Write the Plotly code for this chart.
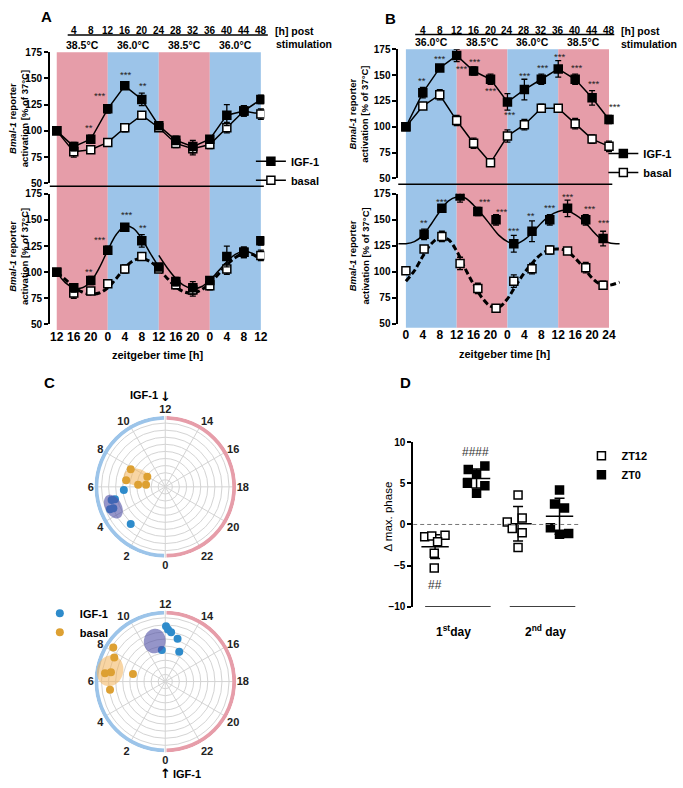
import numpy as np
import plotly.graph_objects as go

W, H = 683, 788
def X(px): return px / W
def Y(py): return 1 - py / H

FONT = "Liberation Sans, Arial, sans-serif"
PINK = "#E69DA9"
BLUE = "#9CC4E9"
DOT_BLUE = "#2E8BCB"
DOT_ORANGE = "#DDA032"

# ---------------- Panel A / B data (hours post stimulation) ----------------
hours = [0, 4, 8, 12, 16, 20, 24, 28, 32, 36, 40, 44, 48]
post_labels = ["4", "8", "12", "16", "20", "24", "28", "32", "36", "40", "44", "48"]
post_hours = [4, 8, 12, 16, 20, 24, 28, 32, 36, 40, 44, 48]
zt_labels_A = ["12", "16", "20", "0", "4", "8", "12", "16", "20", "0", "4", "8", "12"]
zt_labels_B = ["0", "4", "8", "12", "16", "20", "0", "4", "8", "12", "16", "20", "24"]
band_edges = [0, 12, 24, 36, 48]
bands_A = [PINK, BLUE, PINK, BLUE]
bands_B = [BLUE, PINK, BLUE, PINK]
temps_A = ["38.5°C", "36.0°C", "38.5°C", "36.0°C"]
temps_B = ["36.0°C", "38.5°C", "36.0°C", "38.5°C"]

A_igf = [100, 85, 92, 121, 143, 130, 105, 91, 85, 92, 115, 119, 130]
A_igf_err = [1, 4, 4, 4, 3, 6, 3, 4, 6, 3, 10, 5, 4]
A_basal = [100, 80, 82, 89, 103, 115, 103, 88, 83, 87, 103, 119, 116]
A_basal_err = [1, 5, 2, 2, 4, 3, 3, 4, 6, 4, 5, 5, 5]

A_star_x = [7.7, 10.0, 16.2, 20.2]
A_star_y = [103, 134, 154, 143]
A_star_t = ["**", "***", "***", "**"]
A2_star_x = [7.7, 10.1, 16.3, 20.2]
A2_star_y = [101, 131, 155, 143]
A2_star_t = ["**", "***", "***", "**"]

# fitted curves (A bottom)
A_fit1_h = [0, 2, 4, 6, 8, 10, 12, 14, 16, 18, 20, 22, 24]
A_fit1_v = [100, 90, 85, 85, 91, 104, 121, 136, 144, 142, 132, 118, 105]
A_fit2_h = [24, 26, 28, 30, 32, 34, 36, 38, 40, 42, 44, 46, 48]
A_fit2_v = [116, 104, 94, 87, 84, 86, 92, 101, 110, 117, 120, 118, 112]
A_fitb_h = [0, 2, 4, 6, 8, 10, 12, 14, 16, 18, 20, 22, 24, 26, 28, 30, 32, 34, 36, 38, 40, 42, 44, 46, 48]
A_fitb_v = [100, 93, 86, 81, 79, 80, 85, 94, 104, 111, 113, 110, 103, 94, 86, 81, 80, 83, 89, 98, 107, 114, 118, 117, 112]

B_igf = [100, 133, 157, 169, 154, 146, 124, 136, 146, 156, 146, 128, 107]
B_igf_err = [1, 5, 3, 6, 4, 5, 8, 10, 5, 8, 5, 7, 4]
B_basal = [100, 120, 131, 106, 84, 65, 91, 102, 118, 118, 103, 88, 81]
B_basal_err = [1, 3, 5, 5, 5, 3, 6, 5, 4, 3, 5, 4, 5]
B_star_x = [3.8, 8.0, 13.1, 16.2, 20.1, 24.5, 28.0, 32.3, 36.2, 40.3, 44.3, 49.2]
B_star_y = [145, 166, 156, 163, 135, 112, 150, 157, 168, 157, 142, 120]
B_star_t = ["**"] + ["***"] * 11

B2_t_igf = [4.3, 8.5, 12.8, 17.0, 21.3, 25.5, 29.8, 34.0, 38.2, 42.5, 46.6]
B2_igf = [136, 161, 173, 158, 150, 127, 139, 150, 161, 150, 132]
B2_igf_err = [5, 3, 6, 4, 5, 8, 10, 5, 8, 5, 7]
B2_t_basal = [0, 4.3, 8.5, 12.8, 17.0, 21.3, 25.5, 29.8, 34.0, 38.2, 42.5, 46.6]
B2_basal = [101, 122, 134, 108, 84, 65, 91, 103, 121, 120, 104, 87]
B2_basal_err = [1, 3, 5, 6, 5, 3, 6, 5, 4, 3, 5, 4]
B2_star_x = [4.3, 8.5, 15.8, 18.6, 22.5, 25.4, 29.6, 33.9, 38.2, 43.3, 46.6]
B2_star_y = [147, 168, 177, 168, 158, 140, 154, 162, 172, 161, 147]
B2_star_t = ["**", "***", "***", "***", "***", "***", "**", "***", "***", "***", "***"]

B_fit_h = [-1.8, 0, 2, 4, 6, 8, 10, 12, 14, 16, 18, 20, 22, 24, 26, 28, 30, 32, 34, 36, 38, 40, 42, 44, 46, 48, 50.5]
B_fit_igf = [127, 127, 129, 135, 146, 158, 168, 172, 171, 164, 155, 145, 135, 129, 127, 131, 138, 147, 154, 158, 159, 155, 149, 140, 132, 128, 127]
B_fitb_h = [0, 2, 4, 6, 8, 10, 12, 14, 16, 18, 20, 22, 24, 26, 28, 30, 32, 34, 36, 38, 40, 42, 44, 46, 48, 50.5]
B_fitb_v = [91, 101, 115, 127, 133, 131, 120, 103, 88, 75, 67, 66, 74, 87, 99, 109, 117, 121, 122, 120, 113, 104, 94, 88, 87, 90]

# ---------------- Panel C data (phase in h, amplitude in grid units) ----------------
C1_igf_h = [5.7, 5.08, 5.07, 4.53, 4.51, 2.86]
C1_igf_r = [5.86, 7.79, 7.31, 8.41, 7.92, 7.16]
C1_bas_h = [7.8, 6.64, 6.3, 6.4, 7.97]
C1_bas_r = [5.47, 5.6, 3.84, 2.73, 2.91]
C2_igf_h = [12.05, 12.2, 12.45, 13.07, 13.67, 11.58]
C2_igf_r = [7.8, 7.34, 7.0, 6.27, 4.65, 4.48]
C2_bas_h = [8.21, 7.68, 6.52, 6.64, 6.88, 5.43]
C2_bas_r = [8.76, 7.95, 8.58, 7.77, 4.68, 7.88]
# ellipses: centre phase (h), centre radius, semi-axes, tilt (deg)
C1_igf_ell = (4.61, 7.83, 1.8, 1.15, -61)
C1_bas_ell = (7.25, 4.3, 1.8, 1.2, -10)
C2_igf_ell = (11.03, 5.9, 1.74, 1.53, 80)
C2_bas_ell = (6.74, 7.93, 2.2, 1.85, 75)
hour_ticks = list(range(0, 24, 2))

# ---------------- Panel D data ----------------
D_x_zt12_d1 = [0.75, 0.92, 1.24, 1.06, 0.98, 0.98]
D_y_zt12_d1 = [-1.5, -1.4, -1.3, -2.1, -3.5, -5.3]
D_x_zt0_d1 = [1.8, 2.2, 2.0, 1.78, 2.2, 2.0]
D_y_zt0_d1 = [6.7, 7.1, 6.1, 5.0, 4.7, 3.8]
D_x_zt12_d2 = [3.0, 2.74, 3.1, 2.86, 3.1, 3.0]
D_y_zt12_d2 = [3.6, 0.3, 0.8, -0.5, -1.0, -2.8]
D_x_zt0_d2 = [4.0, 3.88, 4.12, 3.78, 4.0, 4.22]
D_y_zt0_d2 = [4.2, 2.5, 2.0, -0.4, -1.2, -1.1]
D_centers = [1, 2, 3, 4]
D_means = [-2.7, 5.6, 0.1, 1.0]
D_sds = [1.45, 1.15, 2.1, 2.2]
D_ticks = [-10, -5, 0, 5, 10]

fig = go.Figure()

def bold(t):
    return "<b>" + t + "</b>"

def series(xa, ya, x, y, err, filled, lines, name=None, legend=None, rank=None):
    fig.add_trace(go.Scatter(
        x=x, y=y, xaxis=xa, yaxis=ya,
        mode="lines+markers" if lines else "markers",
        line=dict(color="black", width=1.5),
        marker=dict(symbol="square", size=8, color="black" if filled else "white",
                    line=dict(color="black", width=1.5)),
        error_y=dict(type="data", array=err, color="black", thickness=1.3, width=3),
        name=name, showlegend=name is not None, legend=legend,
        legendrank=rank, hoverinfo="skip"))

def fit(xa, ya, x, y, dashed):
    fig.add_trace(go.Scatter(
        x=x, y=y, xaxis=xa, yaxis=ya, mode="lines",
        line=dict(color="black", width=3 if dashed else 1.5, shape="spline",
                  dash="6px,3px" if dashed else "solid"),
        showlegend=False, hoverinfo="skip"))

# A top
series("x", "y", hours, A_basal, A_basal_err, False, True, "basal", "legend", 2)
series("x", "y", hours, A_igf, A_igf_err, True, True, "IGF-1", "legend", 1)
# A bottom
fit("x2", "y2", A_fitb_h, A_fitb_v, True)
fit("x2", "y2", A_fit1_h, A_fit1_v, False)
fit("x2", "y2", A_fit2_h, A_fit2_v, False)
series("x2", "y2", hours, A_basal, A_basal_err, False, False)
series("x2", "y2", hours, A_igf, A_igf_err, True, False)
# B top
series("x3", "y3", hours, B_basal, B_basal_err, False, True, "basal", "legend2", 2)
series("x3", "y3", hours, B_igf, B_igf_err, True, True, "IGF-1", "legend2", 1)
# B bottom
fit("x4", "y4", B_fitb_h, B_fitb_v, True)
fit("x4", "y4", B_fit_h, B_fit_igf, False)
series("x4", "y4", B2_t_igf, B2_igf, B2_igf_err, True, False)
series("x4", "y4", B2_t_basal, B2_basal, B2_basal_err, False, False)

# ---------------- Panel C ----------------
def ellipse(params):
    h, r, a, b, tilt = params
    ang = np.deg2rad(270 - 15 * h)
    cx, cy = r * np.cos(ang), r * np.sin(ang)
    t = np.linspace(0, 2 * np.pi, 73)
    ph = np.deg2rad(tilt)
    ex = cx + a * np.cos(t) * np.cos(ph) - b * np.sin(t) * np.sin(ph)
    ey = cy + a * np.cos(t) * np.sin(ph) + b * np.sin(t) * np.cos(ph)
    rr = np.hypot(ex, ey)
    th = (270 - np.rad2deg(np.arctan2(ey, ex))) % 360
    return rr, th

for pol, igf_h, igf_r, bas_h, bas_r, e_igf, e_bas, leg in [
        ("polar", C1_igf_h, C1_igf_r, C1_bas_h, C1_bas_r, C1_igf_ell, C1_bas_ell, False),
        ("polar2", C2_igf_h, C2_igf_r, C2_bas_h, C2_bas_r, C2_igf_ell, C2_bas_ell, True)]:
    fig.add_trace(go.Barpolar(r=[0.55, 0.55], base=[9.45, 9.45], theta=[90, 270], width=[178, 178],
                              marker=dict(color=[BLUE, PINK], line=dict(width=0)),
                              subplot=pol, showlegend=False, hoverinfo="skip"))
    rr, th = ellipse(e_bas)
    fig.add_trace(go.Scatterpolar(r=rr, theta=th, mode="lines", fill="toself",
                                  fillcolor="rgba(242,178,90,0.55)", line=dict(width=0),
                                  subplot=pol, showlegend=False, hoverinfo="skip"))
    fig.add_trace(go.Scatterpolar(r=bas_r, theta=[h * 15 for h in bas_h], mode="markers",
                                  marker=dict(color=DOT_ORANGE, size=8), subplot=pol,
                                  name="basal", showlegend=leg, legend="legend3", legendrank=2,
                                  hoverinfo="skip"))
    fig.add_trace(go.Scatterpolar(r=igf_r, theta=[h * 15 for h in igf_h], mode="markers",
                                  marker=dict(color=DOT_BLUE, size=8), subplot=pol,
                                  name="IGF-1", showlegend=leg, legend="legend3", legendrank=1,
                                  hoverinfo="skip"))
    rr, th = ellipse(e_igf)
    fig.add_trace(go.Scatterpolar(r=rr, theta=th, mode="lines", fill="toself",
                                  fillcolor="rgba(78,78,165,0.6)", line=dict(width=0),
                                  subplot=pol, showlegend=False, hoverinfo="skip"))

# ---------------- Panel D ----------------
mx, my = [], []
for c, m in zip(D_centers, D_means):
    mx += [c - 0.33, c + 0.33, None]
    my += [m, m, None]
fig.add_trace(go.Scatter(x=mx, y=my, xaxis="x5", yaxis="y5", mode="lines",
                         line=dict(color="black", width=1.5), showlegend=False, hoverinfo="skip"))
fig.add_trace(go.Scatter(x=D_centers, y=D_means, xaxis="x5", yaxis="y5", mode="markers",
                         marker=dict(size=1, color="rgba(0,0,0,0)"),
                         error_y=dict(type="data", array=D_sds, color="black", thickness=1.5, width=5),
                         showlegend=False, hoverinfo="skip"))
for xs, ys, filled, nm in [(D_x_zt12_d1, D_y_zt12_d1, False, "ZT12"),
                           (D_x_zt0_d1, D_y_zt0_d1, True, "ZT0"),
                           (D_x_zt12_d2, D_y_zt12_d2, False, None),
                           (D_x_zt0_d2, D_y_zt0_d2, True, None)]:
    fig.add_trace(go.Scatter(x=xs, y=ys, xaxis="x5", yaxis="y5", mode="markers",
                             marker=dict(symbol="square", size=8, color="black" if filled else "white",
                                         line=dict(color="black", width=1.5)),
                             name=nm, showlegend=nm is not None, legend="legend4", hoverinfo="skip"))

# ---------------- Layout ----------------
tickfont = dict(family=FONT, size=10, color="black", weight="bold")
yax = dict(range=[50, 175], tickvals=[50, 75, 100, 125, 150, 175], ticks="outside", ticklen=4,
           tickwidth=1.5, tickcolor="black", showline=True, linewidth=1.5, linecolor="black",
           showgrid=False, zeroline=False, tickfont=tickfont)
xA = dict(domain=[X(50), X(265.5)], range=[-1.64, 48.82], showgrid=False, zeroline=False)
xB = dict(domain=[X(400), X(625)], range=[-1.81, 51.13], showgrid=False, zeroline=False)
xbot_font = dict(family=FONT, size=12, color="black", weight="bold")
legfont = dict(family=FONT, size=11, weight="bold")

layout = dict(
    width=W, height=H, margin=dict(l=0, r=0, t=0, b=0),
    paper_bgcolor="white", plot_bgcolor="rgba(0,0,0,0)",
    font=dict(family=FONT, color="black"),
    xaxis=dict(**xA, anchor="y", showticklabels=False),
    yaxis=dict(**yax, domain=[Y(180), Y(47)], anchor="x"),
    xaxis2=dict(**xA, anchor="y2", tickvals=hours, ticktext=zt_labels_A, ticks="",
                tickfont=xbot_font, ticklabelstandoff=4),
    yaxis2=dict(**yax, domain=[Y(323.3), Y(190.7)], anchor="x2"),
    xaxis3=dict(**xB, anchor="y3", showticklabels=False),
    yaxis3=dict(**yax, domain=[Y(175), Y(44)], anchor="x3"),
    xaxis4=dict(**xB, anchor="y4", tickvals=hours, ticktext=zt_labels_B, ticks="",
                tickfont=xbot_font, ticklabelstandoff=2),
    yaxis4=dict(**yax, domain=[Y(322.7), Y(190.7)], anchor="x4"),
    xaxis5=dict(domain=[X(415), X(600)], range=[0.472, 4.912], anchor="y5",
                showticklabels=False, showgrid=False, zeroline=False, showline=False),
    yaxis5=dict(domain=[Y(610), Y(443)], range=[-10, 10], anchor="x5", tickvals=D_ticks,
                ticks="outside", ticklen=4, tickwidth=1.5, tickcolor="black", showline=True,
                linewidth=1.5, linecolor="black", showgrid=False, zeroline=False, tickfont=tickfont),
    legend=dict(x=X(252), y=Y(143), xanchor="left", yanchor="top", bgcolor="rgba(0,0,0,0)",
                font=legfont, tracegroupgap=0),
    legend2=dict(x=X(606), y=Y(135), xanchor="left", yanchor="top", bgcolor="rgba(0,0,0,0)",
                 font=legfont, tracegroupgap=0),
    legend3=dict(x=X(40), y=Y(602), xanchor="left", yanchor="top", bgcolor="rgba(0,0,0,0)",
                 font=legfont, tracegroupgap=0),
    legend4=dict(x=X(584), y=Y(442), xanchor="left", yanchor="top", bgcolor="rgba(0,0,0,0)",
                 font=legfont, tracegroupgap=2),
)

polar_common = dict(
    bgcolor="white",
    radialaxis=dict(range=[0, 10], tickvals=list(range(1, 10)), showticklabels=False, ticks="",
                    showline=False, gridcolor="#d4d4d4", gridwidth=1),
    angularaxis=dict(rotation=270, direction="clockwise", tickvals=[h * 15 for h in hour_ticks],
                     ticktext=[str(h) for h in hour_ticks], showline=False, ticks="",
                     gridcolor="#d4d4d4", gridwidth=1,
                     tickfont=dict(family=FONT, size=11, color="#222", weight="bold")),
)
layout["polar"] = dict(domain=dict(x=[X(94), X(238)], y=[Y(560.3), Y(416.3)]), **polar_common)
layout["polar2"] = dict(domain=dict(x=[X(94), X(238)], y=[Y(758), Y(614)]), **polar_common)
fig.update_layout(**layout)

shapes = []
for i in range(4):
    shapes.append(dict(type="rect", xref="x", yref="paper", x0=band_edges[i], x1=band_edges[i + 1],
                       y0=Y(329), y1=Y(47), fillcolor=bands_A[i], line=dict(width=0), layer="below"))
    shapes.append(dict(type="rect", xref="x3", yref="paper", x0=band_edges[i], x1=band_edges[i + 1],
                       y0=Y(326.7), y1=Y(44), fillcolor=bands_B[i], line=dict(width=0), layer="below"))
for x0, x1, yy in [(50, 265, 183), (400, 615, 181)]:
    shapes.append(dict(type="line", xref="paper", yref="paper", x0=X(x0), x1=X(x1), y0=Y(yy), y1=Y(yy),
                       line=dict(color="black", width=1.5)))
for x0, x1, yy in [(68, 269, 29.5), (417, 617, 29)]:
    shapes.append(dict(type="line", xref="paper", yref="paper", x0=X(x0), x1=X(x1), y0=Y(yy), y1=Y(yy),
                       line=dict(color="black", width=1.5)))
# Panel D helper lines
shapes.append(dict(type="line", xref="x5", yref="y5", x0=0.472, x1=4.5, y0=0, y1=0,
                   line=dict(color="#777", width=1, dash="4px,3px")))
for x0, x1 in [(0.76, 2.34), (2.8, 4.38)]:
    shapes.append(dict(type="line", xref="x5", yref="y5", x0=x0, x1=x1, y0=-10, y1=-10,
                       line=dict(color="black", width=1.5)))
shapes.append(dict(type="line", xref="x5", yref="y5", x0=0.71, x1=1.98, y0=10.6, y1=10.6,
                   line=dict(color="black", width=1.5)))
fig.update_layout(shapes=shapes)

ann = []
def A(x, y, text, size=10, xref="paper", yref="paper", xanchor="center", yanchor="middle", angle=0,
      color="black", family=FONT):
    ann.append(dict(x=x, y=y, xref=xref, yref=yref, text=text, showarrow=False, xanchor=xanchor,
                    yanchor=yanchor, textangle=angle,
                    font=dict(family=family, size=size, color=color)))

# panel letters
A(X(47), Y(11), bold("A"), 15)
A(X(392), Y(13), bold("B"), 15)
A(X(50), Y(382), bold("C"), 15)
A(X(407), Y(382), bold("D"), 15)
# post stimulation labels
for h, t in zip(post_hours, post_labels):
    A(h, Y(24.5), bold(t), 10, xref="x")
    A(h, Y(24.5), bold(t), 10, xref="x3")
for i in range(4):
    c = (band_edges[i] + band_edges[i + 1]) / 2
    A(c, Y(40), bold(temps_A[i]), 10.5, xref="x")
    A(c, Y(37), bold(temps_B[i]), 10.5, xref="x3")
A(X(274), Y(25), bold("[h] post"), 10.5, xanchor="left")
A(X(275), Y(38.5), bold("stimulation"), 10.5, xanchor="left")
A(X(622), Y(25), bold("[h] post"), 10.5, xanchor="left")
A(X(622), Y(38.5), bold("stimulation"), 10.5, xanchor="left")
# y titles
ytitle = bold("<i>Bmal-1</i> reporter<br>activation [% of 37°C]")
A(X(18), Y(114), ytitle, 9.5, angle=-90)
A(X(18), Y(254), ytitle, 9.5, angle=-90)
A(X(360), Y(110), ytitle, 9.5, angle=-90)
A(X(360), Y(254), ytitle, 9.5, angle=-90)
A(X(158), Y(354), bold("zeitgeber time [h]"), 11)
A(X(507), Y(353), bold("zeitgeber time [h]"), 11)
# stars
for xs, ys, ts, xr, yr in [(A_star_x, A_star_y, A_star_t, "x", "y"),
                           (A2_star_x, A2_star_y, A2_star_t, "x2", "y2"),
                           (B_star_x, B_star_y, B_star_t, "x3", "y3"),
                           (B2_star_x, B2_star_y, B2_star_t, "x4", "y4")]:
    for x, y, t in zip(xs, ys, ts):
        A(x, y, t, 9.5, xref=xr, yref=yr, color="#222")
# polar labels
A(X(161), Y(395), bold("IGF-1"), 11, xanchor="right")
A(X(166.5), Y(397), bold("↓"), 13, family="DejaVu Sans")
A(X(172), Y(780), bold("IGF-1"), 11, xanchor="left")
A(X(166), Y(779), bold("↑"), 13, family="DejaVu Sans")
# panel D text
A(1.35, 11.6, "***", 9.5, xref="x5", yref="y5", color="#222")
A(1.98, 8.8, "####", 12, xref="x5", yref="y5", color="#333")
A(1.0, -7.4, "##", 12, xref="x5", yref="y5", color="#333")
A(X(390), Y(518), "Δ max. phase", 11.5, angle=-90)
A(X(455), Y(635), bold("1<sup>st</sup>day"), 12)
A(X(548), Y(635), bold("2<sup>nd</sup> day"), 12)
fig.update_layout(annotations=ann)

fig.write_html("out.html", config={"displayModeBar": False},
               post_script="document.body.style.margin='0px';document.body.style.padding='0px';")
